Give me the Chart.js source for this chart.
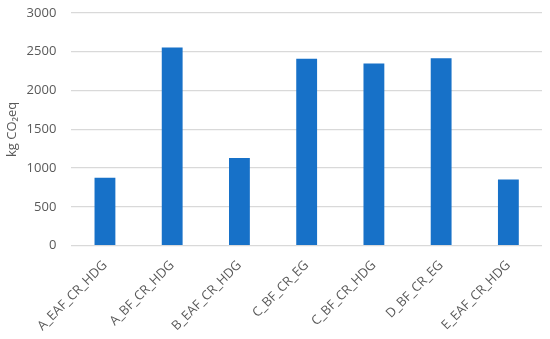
<!DOCTYPE html>
<html>
<head>
<meta charset="utf-8">
<script src="https://cdn.jsdelivr.net/npm/chart.js@4"></script>
<style>
  html, body { margin: 0; padding: 0; background: #fff; }
  #wrap { width: 550px; height: 339px; }
</style>
</head>
<body>
<div id="wrap"><canvas id="chart"></canvas></div>
<script>
const categories = ['A_EAF_CR_HDG', 'A_BF_CR_HDG', 'B_EAF_CR_HDG', 'C_BF_CR_EG', 'C_BF_CR_HDG', 'D_BF_CR_EG', 'E_EAF_CR_HDG'];
const emissions = [875, 2556, 1129, 2409, 2349, 2418, 853];
const yTicks = [0, 500, 1000, 1500, 2000, 2500, 3000];

const ctx = document.getElementById('chart').getContext('2d');
const chart = new Chart(ctx, {
    type: 'bar',
    data: {
        labels: categories,
        datasets: [
            {
                label: 'kg CO2-eq',
                data: emissions,
                backgroundColor: '#1771c8',
                barPercentage: 0.31,
                categoryPercentage: 1.0,
            },
        ]
    },
    options: {
        responsive: true,
        maintainAspectRatio: false,
        animation: false,
        layout: {
            padding: { top: 13, right: 8, left: 0, bottom: 1 }
        },
        plugins: {
            legend: { display: false },
            tooltip: { enabled: false }
        },
        scales: {
            x: {
                grid: { display: false },
                border: { display: false },
                ticks: {
                    color: '#595959',
                    font: { family: 'Open Sans', size: 13 },
                    minRotation: 45,
                    maxRotation: 45,
                    padding: 4
                }
            },
            y: {
                min: yTicks[0],
                max: yTicks[yTicks.length - 1],
                afterBuildTicks: (axis) => {
                    axis.ticks = yTicks.map(v => ({ value: v }));
                },
                // label gap shouldn't push the plot top down
                afterFit: (axis) => {
                    axis.paddingTop = 0;
                },
                grid: {
                    color: '#d9d9d9',
                    lineWidth: 1.3,
                    drawTicks: false
                },
                border: { display: false },
                ticks: {
                    color: '#595959',
                    font: { family: 'Open Sans', size: 13 },
                    padding: 15,
                    callback: (v) => String(v)
                },
                title: {
                    display: true,
                    text: 'kg CO₂eq',
                    color: '#595959',
                    font: { family: 'Open Sans', size: 13 },
                    padding: { top: 4, bottom: -8 }
                }
            }
        }
    }
});
</script>
</body>
</html>
